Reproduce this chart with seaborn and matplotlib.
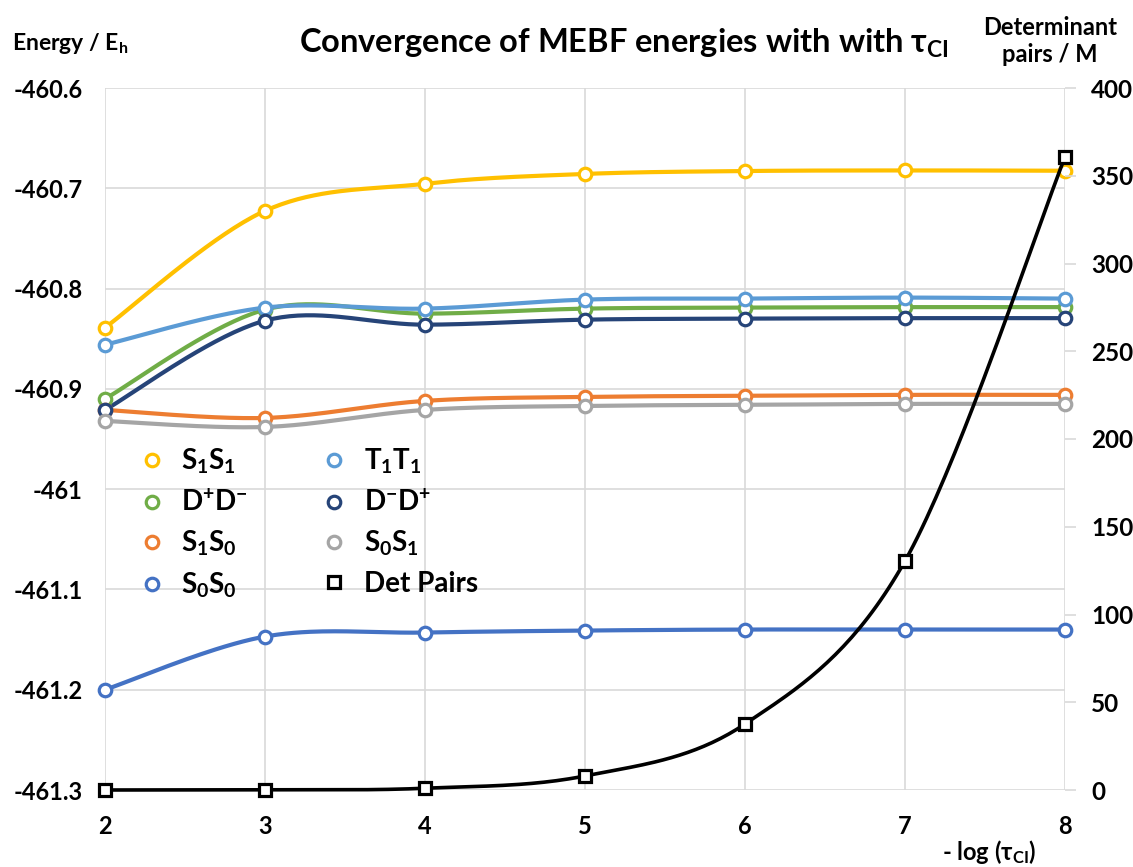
import numpy as np
import matplotlib
matplotlib.use('Agg')
import matplotlib.pyplot as plt
import seaborn as sns
from matplotlib.lines import Line2D

# data
neg_log_tau = [2, 3, 4, 5, 6, 7, 8]
e_s1s1 = [-460.839, -460.7225, -460.6955, -460.6857, -460.6828, -460.6822, -460.6825]
e_t1t1 = [-460.856, -460.819, -460.820, -460.811, -460.810, -460.809, -460.810]
e_dpdm = [-460.910, -460.821, -460.825, -460.820, -460.819, -460.8185, -460.8185]
e_dmdp = [-460.921, -460.832, -460.836, -460.831, -460.830, -460.8295, -460.8295]
e_s1s0 = [-460.921, -460.929, -460.912, -460.908, -460.907, -460.906, -460.906]
e_s0s1 = [-460.932, -460.938, -460.921, -460.917, -460.916, -460.915, -460.915]
e_s0s0 = [-461.200, -461.147, -461.143, -461.141, -461.140, -461.140, -461.140]
det_pairs = [0.0, 0.1, 1.0, 8.0, 37.6, 130.5, 360.7]

energy_series = [
    (r'S$_\mathrm{1}$S$_\mathrm{1}$', e_s1s1, '#FFC000'),
    (r'D$^\mathrm{+}$D$^\mathrm{-}$', e_dpdm, '#70AD47'),
    (r'S$_\mathrm{1}$S$_\mathrm{0}$', e_s1s0, '#ED7D31'),
    (r'S$_\mathrm{0}$S$_\mathrm{0}$', e_s0s0, '#4472C4'),
    (r'T$_\mathrm{1}$T$_\mathrm{1}$', e_t1t1, '#5B9BD5'),
    (r'D$^\mathrm{-}$D$^\mathrm{+}$', e_dmdp, '#264478'),
    (r'S$_\mathrm{0}$S$_\mathrm{1}$', e_s0s1, '#A5A5A5'),
]


def smooth(xs, ys, n=40):
    # Excel-style smoothed line (Catmull-Rom bezier through the points)
    pts = np.column_stack([xs, ys]).astype(float)
    ext = np.vstack([pts[0], pts, pts[-1]])
    out = []
    t = np.linspace(0, 1, n)[:, None]
    for i in range(len(pts) - 1):
        p0, p1, p2, p3 = ext[i], ext[i + 1], ext[i + 2], ext[i + 3]
        c1 = p1 + (p2 - p0) / 6
        c2 = p2 - (p3 - p1) / 6
        seg = (1 - t) ** 3 * p1 + 3 * (1 - t) ** 2 * t * c1 + 3 * (1 - t) * t ** 2 * c2 + t ** 3 * p2
        out.append(seg if i == 0 else seg[1:])
    out = np.vstack(out)
    return out[:, 0], out[:, 1]


sns.set_theme(style='whitegrid')
plt.rcParams['font.family'] = ['Lato', 'DejaVu Sans']
plt.rcParams['font.weight'] = 'bold'
plt.rcParams['text.color'] = 'black'
plt.rcParams['mathtext.fontset'] = 'custom'
plt.rcParams['mathtext.rm'] = 'Lato:bold'
plt.rcParams['mathtext.it'] = 'Lato:bold'
plt.rcParams['mathtext.bf'] = 'Lato:bold'

fig = plt.figure(figsize=(11.33, 8.67), dpi=100)
ax = fig.add_axes([105 / 1133, 77 / 867, 960 / 1133, 702 / 867])
ax2 = ax.twinx()

grid_c = '#D9D9D9'
handles = []
for label, vals, col in energy_series:
    sx, sy = smooth(neg_log_tau, vals)
    ax.plot(sx, sy, color=col, lw=3, solid_capstyle='round', clip_on=False, zorder=3)
    ax.plot(neg_log_tau, vals, ls='none', marker='o', ms=9, mew=2.3,
            mfc='white', mec=col, clip_on=False, zorder=4)
    handles.append(Line2D([], [], ls='none', marker='o', ms=9, mew=2.3,
                          mfc='white', mec=col, label=label))

sx, sy = smooth(neg_log_tau, det_pairs)
ax2.plot(sx, sy, color='black', lw=2.6, clip_on=False, zorder=3)
ax2.plot(neg_log_tau, det_pairs, ls='none', marker='s', ms=9, mew=2.3,
         mfc='white', mec='black', clip_on=False, zorder=4)
handles.append(Line2D([], [], ls='none', marker='s', ms=8, mew=2.3,
                      mfc='white', mec='black', label='Det Pairs'))

ax.set_xlim(2, 8)
ax.set_ylim(-461.3, -460.6)
ax.set_xticks(neg_log_tau)
e_ticks = [-460.6, -460.7, -460.8, -460.9, -461.0, -461.1, -461.2, -461.3]
ax.set_yticks(e_ticks)
ax.set_yticklabels([f'{v:g}' for v in e_ticks])
ax.grid(True, color=grid_c, lw=1.2)
ax.tick_params(axis='y', length=0, pad=16, labelsize=17)
ax.tick_params(axis='x', length=0, pad=18, labelsize=17)
for s in ax.spines.values():
    s.set_visible(False)

ax2.set_ylim(0, 400)
ax2.set_yticks(list(range(0, 401, 50)))
ax2.grid(False)
ax2.tick_params(axis='y', length=8, width=1.2, color=grid_c, pad=11, labelsize=17.5)
for s in ax2.spines.values():
    s.set_visible(False)

for t in ax.get_xticklabels() + ax.get_yticklabels() + ax2.get_yticklabels():
    t.set_fontweight('bold')
    t.set_color('black')

leg = ax2.legend(handles=handles, ncol=2, loc='upper left',
                 bbox_to_anchor=(113 / 1133, 1 - 422 / 867), bbox_transform=fig.transFigure,
                 frameon=False, fontsize=20, handlelength=1.0, handletextpad=0.55,
                 columnspacing=2.62, labelspacing=0.45)
for txt in leg.get_texts():
    txt.set_fontweight('bold')

fig.text(624 / 1133, 1 - 43 / 867, r'Convergence of MEBF energies with with τ$_\mathrm{CI}$',
         ha='center', va='center', fontsize=23.5, fontweight='bold')
fig.text(12 / 1133, 1 - 43 / 867, r'Energy / E$_\mathrm{h}$', ha='left', va='center',
         fontsize=16.5, fontweight='bold')
fig.text(1050 / 1133, 1 - 41 / 867, 'Determinant\npairs / M', ha='center', va='center',
         fontsize=17, fontweight='bold', linespacing=1.2)
fig.text(1036 / 1133, 1 - 852 / 867, r'- log (τ$_\mathrm{CI}$)', ha='right', va='center',
         fontsize=17, fontweight='bold')

fig.savefig('out.png', dpi=100)
